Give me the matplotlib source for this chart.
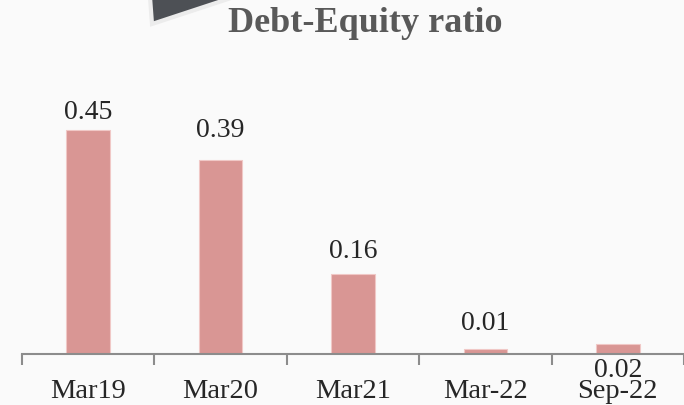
import matplotlib.pyplot as plt
from matplotlib.patches import Polygon

# data
periods = ['Mar19', 'Mar20', 'Mar21', 'Mar-22', 'Sep-22']
de_ratio = [0.45, 0.39, 0.16, 0.01, 0.02]

# label offsets in points above the bar top (hand-placed in the original)
label_offsets = [13, 22, 17, 19, -18]

W, H = 684, 406
fig = plt.figure(figsize=(W / 100, H / 100), dpi=100)
fig.patch.set_facecolor('#fafafa')

# axes spans x 22..684 px, y-axis baseline at 355 px
ax = fig.add_axes([22 / W, (H - 355) / H, (W - 22) / W, 300 / H])
ax.set_facecolor('none')

x = range(len(periods))
ax.bar(x, de_ratio, width=0.33, color='#d99694', edgecolor='#f0c8c6', linewidth=0.8)

for xi, val, off in zip(x, de_ratio, label_offsets):
    ax.annotate(f'{val:.2f}', (xi, val), xytext=(0, off), textcoords='offset points',
                ha='center', va='center', fontsize=20, family='Liberation Serif',
                color='#262626', annotation_clip=False)

ax.set_xlim(-0.5, 4.5)
ax.set_ylim(0, 300 / 498)

for s in ['top', 'right', 'left']:
    ax.spines[s].set_visible(False)
ax.spines['bottom'].set_color('#8c8c8c')
ax.spines['bottom'].set_linewidth(1.5)

ax.set_yticks([])
ax.set_xticks([i - 0.5 for i in range(len(periods) + 1)], minor=False)
ax.set_xticklabels([])
ax.set_xticks(list(x), minor=True)
ax.set_xticklabels(periods, minor=True, fontsize=20.5, family='Liberation Serif', color='#262626')
ax.tick_params(axis='x', which='major', direction='out', length=8, width=1.5, color='#8c8c8c')
ax.tick_params(axis='x', which='minor', length=0, pad=17)

fig.text(365 / W, 1 - 23 / H, 'Debt-Equity ratio', ha='center', va='center',
         fontsize=26, fontweight='bold', family='Liberation Serif', color='#595959')

# dark decorative shape in the top-left corner
pts = [(150, -2), (152, 25), (234, -2)]
shape = Polygon([(px / W, 1 - py / H) for px, py in pts], closed=True,
                transform=fig.transFigure, facecolor='#4d5055', edgecolor='#ececec', linewidth=3)
fig.patches.append(shape)

fig.savefig('out.png', dpi=100, facecolor=fig.get_facecolor())
